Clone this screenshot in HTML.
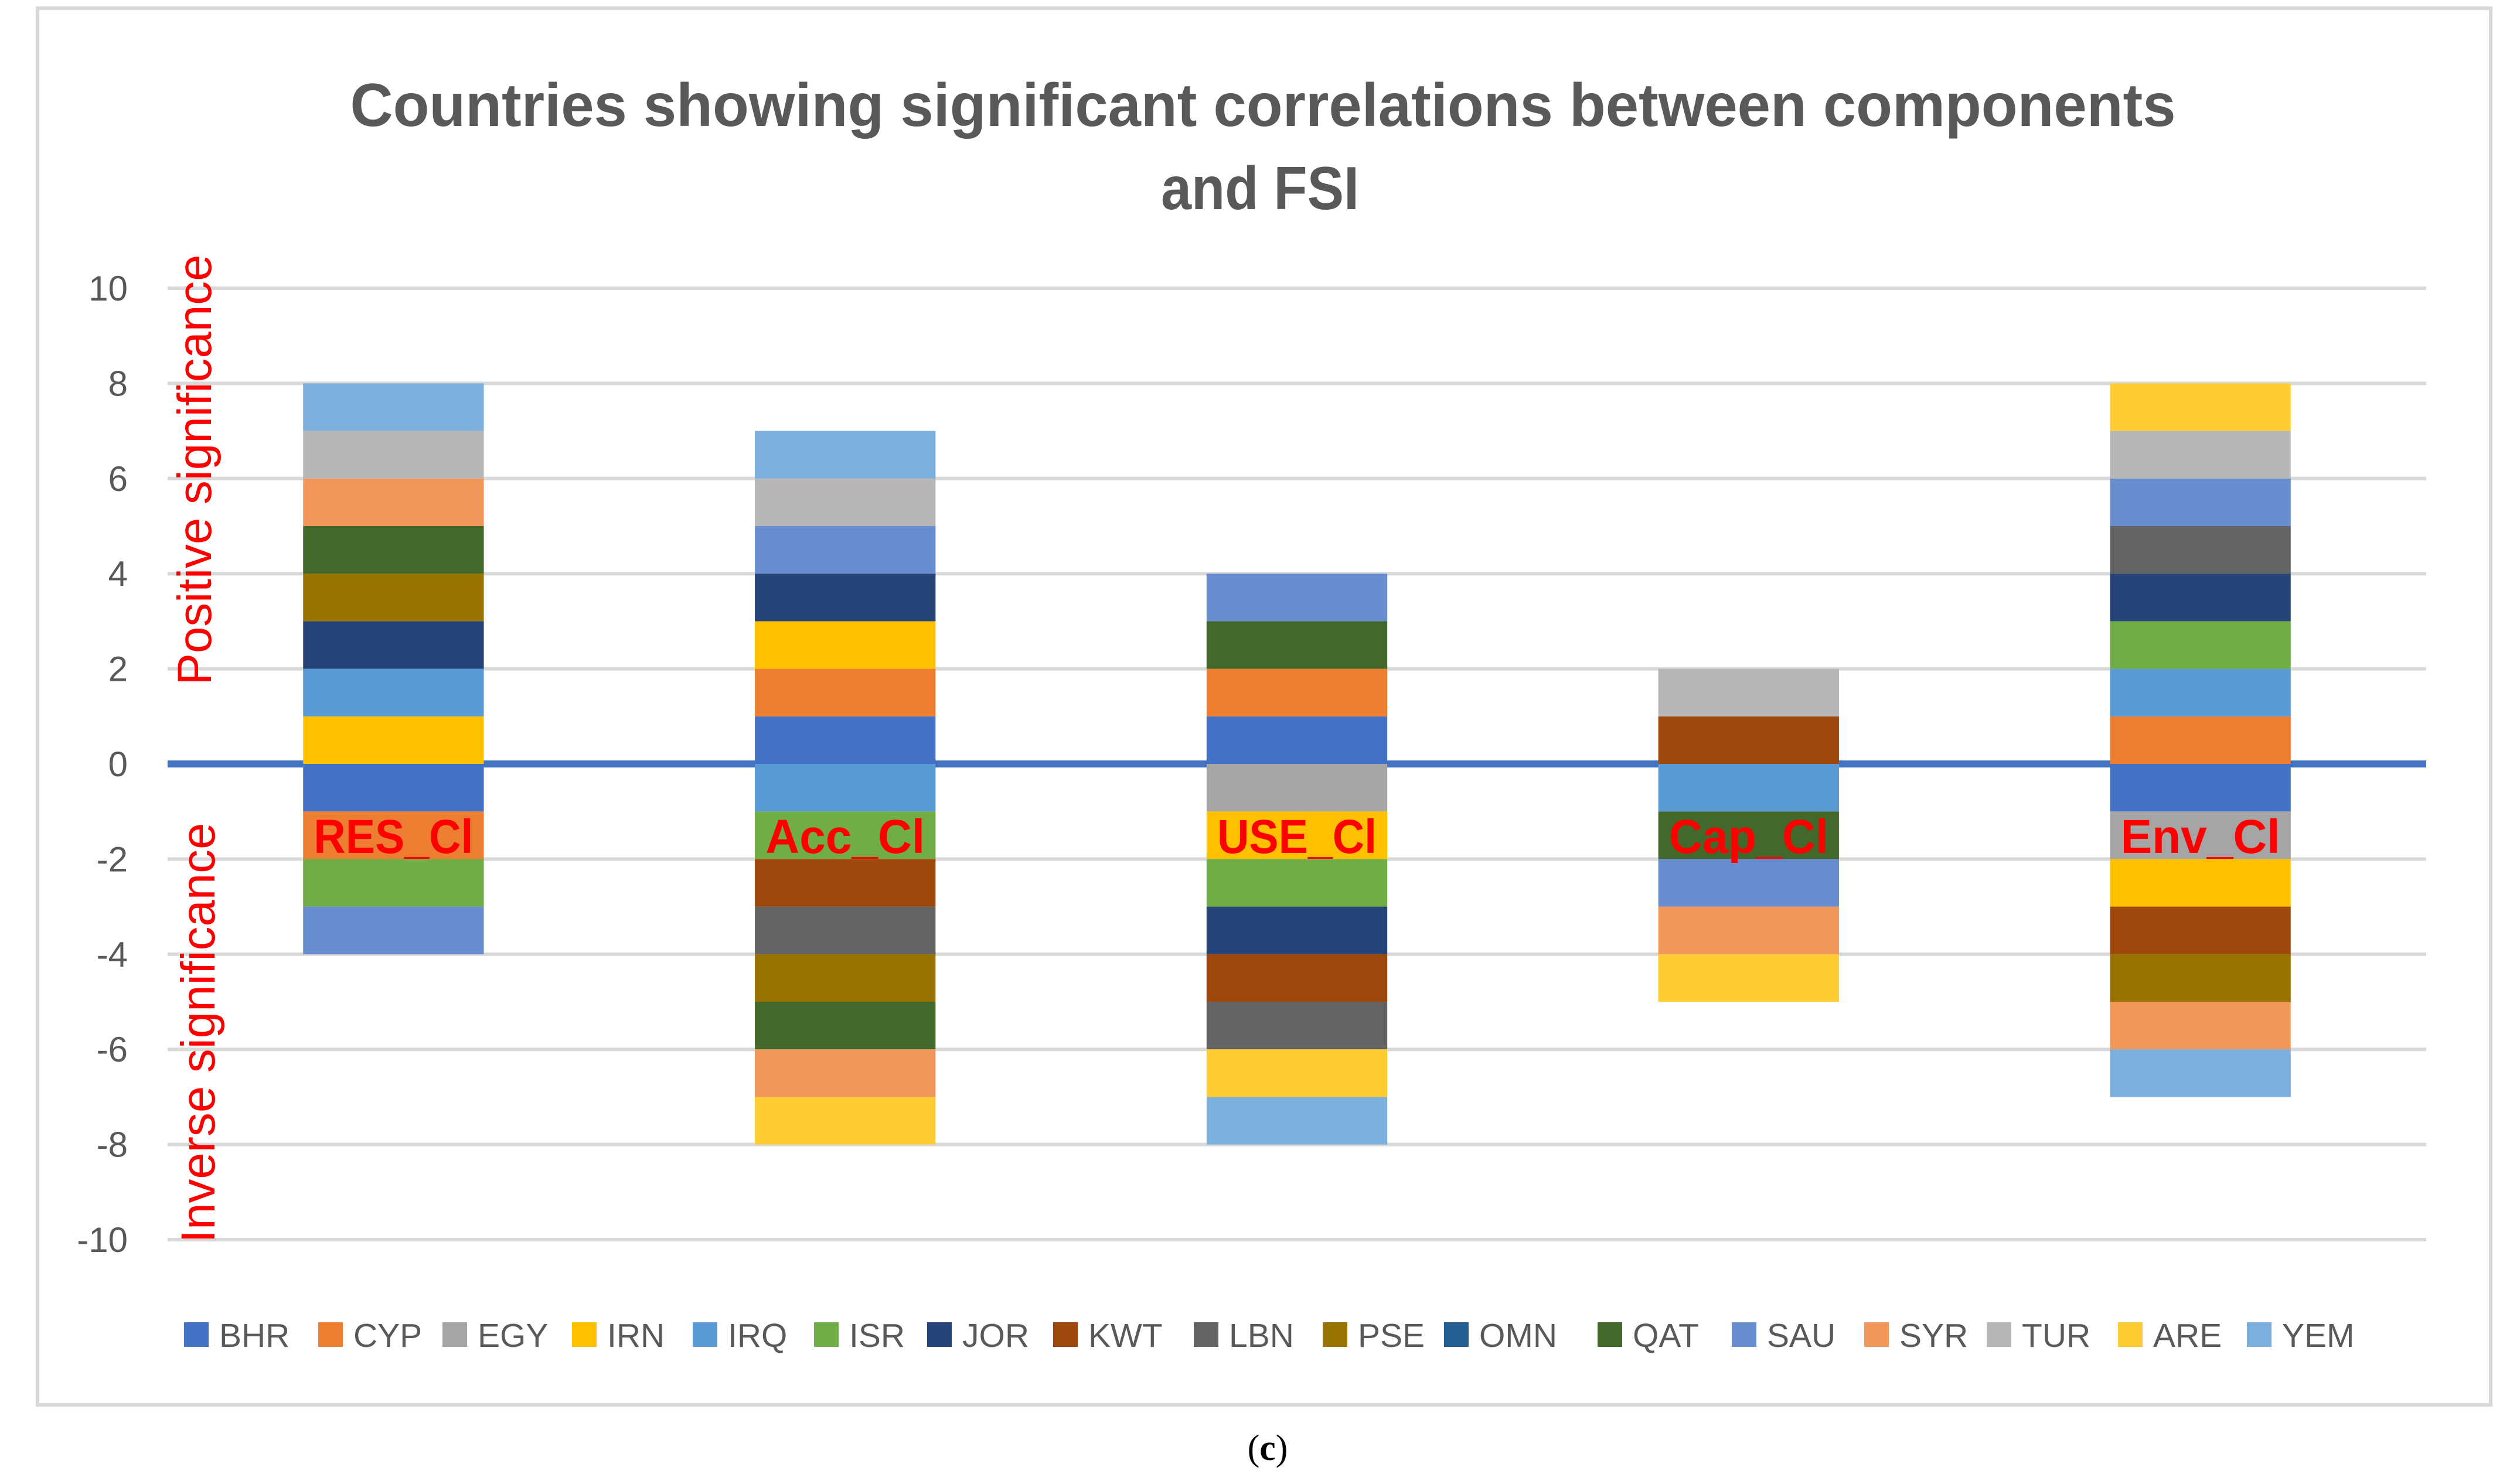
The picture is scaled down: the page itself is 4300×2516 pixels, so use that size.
<!DOCTYPE html>
<html><head><meta charset="utf-8"><style>
html,body{margin:0;padding:0;background:#fff;}
svg{display:block;font-family:"Liberation Sans",sans-serif;}
</style></head><body>
<svg id="chart" width="4300" height="2516" viewBox="0 0 4300 2516" xmlns="http://www.w3.org/2000/svg">
<rect x="64" y="14" width="4186" height="2384" fill="#fff" stroke="#d9d9d9" stroke-width="6"/>
<text x="2155" y="215" text-anchor="middle" font-size="104" font-weight="bold" fill="#595959" textLength="3115" lengthAdjust="spacingAndGlyphs">Countries showing significant correlations between components</text>
<text x="2150" y="357" text-anchor="middle" font-size="104" font-weight="bold" fill="#595959" textLength="338" lengthAdjust="spacingAndGlyphs">and FSI</text>
<g id="grid"></g>
<g id="bars"></g>
<g id="labels"></g>
<text transform="translate(360,802) rotate(-90)" text-anchor="middle" font-size="82" fill="#ff0000" textLength="735" lengthAdjust="spacingAndGlyphs">Positive significance</text>
<text transform="translate(366,1763) rotate(-90)" text-anchor="middle" font-size="82" fill="#ff0000" textLength="717" lengthAdjust="spacingAndGlyphs">Inverse significance</text>
<g id="legend"></g>
<text x="2163" y="2492" text-anchor="middle" font-size="62" font-family="Liberation Serif, serif" fill="#000">(<tspan font-weight="bold">c</tspan>)</text>
</svg>
<script>
const categories = ["RES_Cl","Acc_Cl","USE_Cl","Cap_Cl","Env_Cl"];
const seriesNames = ["BHR","CYP","EGY","IRN","IRQ","ISR","JOR","KWT","LBN","PSE","OMN","QAT","SAU","SYR","TUR","ARE","YEM"];
const seriesColors = ["#4472c4","#ed7d31","#a5a5a5","#ffc000","#5b9bd5","#70ad47","#264478","#9e480e","#636363","#997300","#255e91","#43682b","#698ed0","#f1975a","#b7b7b7","#ffcd33","#7cafdd"];
const BHR = [-1, 1, 1, 0, -1];
const CYP = [-1, 1, 1, 0, 1];
const EGY = [0, 0, -1, 0, -1];
const IRN = [1, 1, -1, 0, -1];
const IRQ = [1, -1, 0, -1, 1];
const ISR = [-1, -1, -1, 0, 1];
const JOR = [1, 1, -1, 0, 1];
const KWT = [0, -1, -1, 1, -1];
const LBN = [0, -1, -1, 0, 1];
const PSE = [1, -1, 0, 0, -1];
const OMN = [0, 0, 0, 0, 0];
const QAT = [1, -1, 1, -1, 0];
const SAU = [-1, 1, 1, -1, 1];
const SYR = [1, -1, 0, -1, -1];
const TUR = [1, 1, 0, 1, 1];
const ARE = [0, -1, -1, -1, 1];
const YEM = [1, 1, -1, 0, -1];
const seriesValues = [BHR,CYP,EGY,IRN,IRQ,ISR,JOR,KWT,LBN,PSE,OMN,QAT,SAU,SYR,TUR,ARE,YEM];
const yTicks = [10,8,6,4,2,0,-2,-4,-6,-8,-10];
const yMin = -10, yMax = 10;

const NS = "http://www.w3.org/2000/svg";
const plotL = 286, plotR = 4140, plotT = 492, plotB = 2116;
const y = v => plotB - (v - yMin) / (yMax - yMin) * (plotB - plotT);
const band = (plotR - plotL) / categories.length;
const xc = i => plotL + band * (i + 0.5);
const barW = band * 0.4;
function mk(tag, attrs, parent) {
  const e = document.createElementNS(NS, tag);
  for (const k in attrs) e.setAttribute(k, attrs[k]);
  parent.appendChild(e);
  return e;
}
const grid = document.getElementById("grid");
yTicks.forEach(t => {
  if (t !== 0) {
    const l = mk("line", {x1: plotL, x2: plotR, y1: y(t), y2: y(t), stroke: "#d9d9d9", "stroke-width": 6}, grid);
    
    
  }
  const tx = mk("text", {x: 218, y: y(t) + 21, "text-anchor": "end", "font-size": 60, fill: "#595959"}, grid);
  
  
  tx.textContent = String(t);
});
const zl = mk("line", {x1: plotL, x2: plotR, y1: y(0), y2: y(0), stroke: "#4472c4", "stroke-width": 12}, grid);



const bars = document.getElementById("bars");
categories.forEach((c, i) => {
  let pos = 0, neg = 0;
  seriesValues.forEach((vals, s) => {
    const v = vals[i];
    if (!v) return;
    let y0, y1;
    if (v > 0) { y0 = pos; y1 = pos + v; pos = y1; }
    else { y0 = neg; y1 = neg + v; neg = y1; }
    const top = y(Math.max(y0, y1)), bot = y(Math.min(y0, y1));
    const r = mk("rect", {x: xc(i) - barW / 2, y: top, width: barW, height: bot - top, fill: seriesColors[s]}, bars);
    
    
  });
});
const labels = document.getElementById("labels");
categories.forEach((c, i) => {
  const t = mk("text", {x: xc(i), y: y(-1.5) + 30, "text-anchor": "middle", "font-size": 82, "font-weight": "bold", fill: "#ff0000", textLength: 272, lengthAdjust: "spacingAndGlyphs"}, labels);
  
  
  t.textContent = c;
});
const legendX = [314,543,755,976,1182,1389,1582,1797,2037,2257,2464,2726,2955,3181,3390,3614,3834];
const legend = document.getElementById("legend");
seriesNames.forEach((n, s) => {
  const g = mk("g", {}, legend);
  
  
  mk("rect", {x: legendX[s], y: 2257, width: 42, height: 42, fill: seriesColors[s]}, g);
  const t = mk("text", {x: legendX[s] + 60, y: 2299, "font-size": 57, fill: "#595959"}, g);
  t.textContent = n;
});
</script>
</body></html>
